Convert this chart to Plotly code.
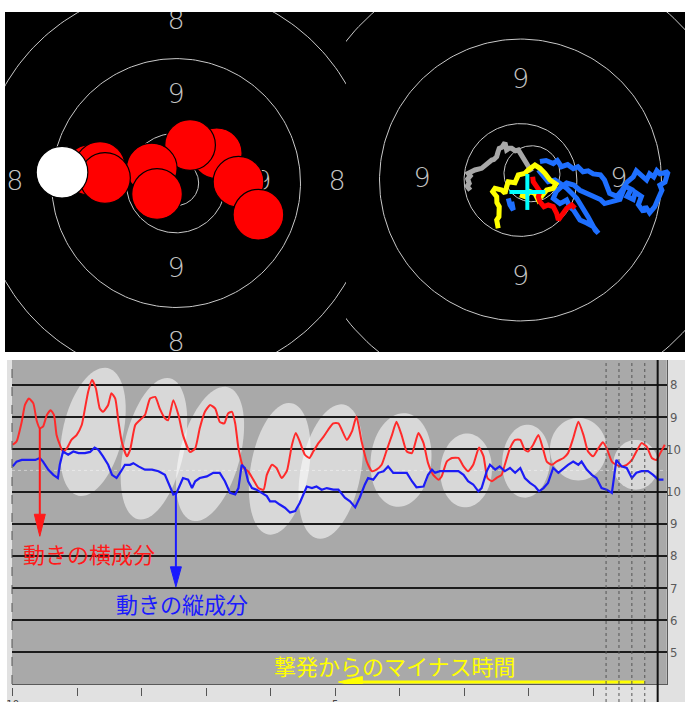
import numpy as np
import plotly.graph_objects as go

W, H = 685, 702

# ---------------- target rings (10 m air pistol), radii in mm ----------------
RING_RADII = [5.5, 13.75, 21.75]
INNER_TEN = 2.5
BAND_NAMES = ["9", "8"]
BAND_MID_RADII = [9.6, 17.8]

# ---------------- left target: shot group, mm from centre ----------------
SHOT_X = [4.5, 1.55, -2.68, -2.1, -9.5, -8.4, -7.85, 6.9, 9.1]
SHOT_Y = [3.28, 4.2, 1.6, -1.2, 1.44, 1.77, 0.55, 0.14, -3.5]
LAST_X = [-12.6]
LAST_Y = [1.2]
SHOT_DIAM = 5.6

# ---------------- right target: aiming trace, mm from centre ----------------
GREY_X = [-4.9, -5.2, -5.0, -5.15, -4.9, -5.1, -4.6, -4.44, -3.79, -3.5, -3.30, -2.81,
          -2.6, -2.32, -2.2, -2.07, -1.8, -1.51, -1.35, -1.1, -0.86, -0.5, -0.21, 0.21,
          0.60, 1.09]
GREY_Y = [-1.0, -0.6, -0.32, 0.1, 0.4, 0.65, 0.9, 0.98, 1.14, 1.4, 1.63, 1.95,
          2.0, 2.27, 2.7, 3.09, 3.2, 3.64, 2.93, 3.1, 3.09, 2.85, 2.93, 2.27,
          1.46, 0.81]
YELLOW_X = [-2.17, -2.32, -2.1, -2.07, -2.3, -2.32, -2.71, -2.49, -1.83, -1.51, -1.35,
            -1.19, -0.54, -0.21, 0.44, 0.76, 1.41, 1.90, 2.39, 2.88, 3.46, 3.20,
            2.56, 2.07, 1.74, 1.41, 0.93, 0.44, -0.05]
YELLOW_Y = [-4.71, -3.9, -3.58, -2.60, -2.2, -1.63, -1.14, -0.81, -0.98, -1.30, -0.65,
            -0.17, -0.26, 0.49, 0.65, 0.98, 1.46, 1.14, 0.65, 0.0, -0.39, -0.81,
            -0.98, -1.46, -1.95, -1.30, -1.14, -1.63, -1.46]
RED_X = [1.19, 1.25, 1.58, 1.90, 1.74, 1.90, 2.29, 2.71, 3.20, 3.53, 3.69, 4.02,
         4.51, 5.00, 5.32]
RED_Y = [0.32, -0.17, -0.65, -1.14, -1.63, -2.12, -2.60, -2.44, -2.60, -3.25,
         -3.90, -3.41, -2.76, -2.44, -2.76]
BLUE_X = [-1.19, -1.02, -0.70, -0.86, None,
          1.90, 2.5, 3.2, 3.6, 4.0, 4.6, 5.15, 5.6, 6.1, 6.6, 7.1, 7.8, 8.2, 8.4, 8.7,
          9.4, 9.9, 10.4, 11.0, 11.3, 11.7, 12.3, 12.6, 13.0, 13.3, 13.6, 14.4, 14.1,
          13.6, 13.8, 13.4, 13.1, 12.6, 12.2, 12.0, 11.5, 11.8, 11.2, 11.0, 10.4, 10.8,
          10.2, 9.7, 9.0, 8.2, 7.8, 7.1, 6.5, 5.8, 5.2, 4.5, 4.0, 3.5, 3.2, 3.85, 4.5,
          4.8, 5.15, 5.5, 5.8, 6.46, 7.1, 7.6, 7.3, 6.6, 6.0, 5.5, 5.0, 4.5, 3.85, 3.37,
          2.7, 2.07, 1.74]
BLUE_Y = [-1.79, -2.44, -2.93, -2.12, None,
          1.8, 1.9, 1.6, 1.9, 1.3, 1.5, 1.1, 1.3, 0.8, 0.9, 0.6, 0.5, 0.0, -0.6, -1.3,
          -1.6, -1.0, -0.2, 0.3, 0.9, 0.5, 0.0, 0.6, 0.3, 0.9, 0.6, 0.8, -0.2,
          -0.5, -1.0, -1.9, -2.6, -3.2, -2.6, -3.1, -2.4, -1.6, -1.2, -1.9, -1.6, -0.9,
          -0.6, -1.9, -2.1, -2.3, -1.9, -1.6, -1.3, -1.0, -0.5, -0.3, -0.65, -1.1, -1.8,
          -2.3, -1.95, -2.6, -2.9, -3.5, -3.9, -4.2, -4.55, -5.2, -4.9, -3.6, -2.6, -1.8,
          -1.3, -0.8, -0.33, 0.0, -0.17, 0.49, 0.98]
HOLD_CIRCLE = (1.12, 0.61, 2.73)        # centre x, centre y, radius (mm)
CROSS_X, CROSS_Y, CROSS_ARM = 0.67, -1.17, 1.75

# ---------------- time chart: seconds before the shot / offset in mm ----------------
T_HORIZ = [10.0, 9.94, 9.86, 9.81, 9.75, 9.68, 9.63, 9.58, 9.53, 9.47, 9.41, 9.36, 9.32,
           9.27, 9.22, 9.16, 9.09, 9.01, 8.93, 8.88, 8.83, 8.77, 8.71, 8.65, 8.60, 8.52,
           8.47, 8.41, 8.36, 8.31, 8.23, 8.18, 8.10, 8.03, 7.95, 7.87, 7.79, 7.72, 7.64,
           7.59, 7.51, 7.43, 7.36, 7.25, 7.17, 7.10, 7.02, 6.94, 6.86, 6.79, 6.72, 6.66,
           6.60, 6.55, 6.50, 6.42, 6.35, 6.27, 6.19, 6.11, 6.06, 5.98, 5.91, 5.83, 5.75,
           5.67, 5.61, 5.55, 5.47, 5.40, 5.34, 5.26, 5.18, 5.11, 5.03, 4.95, 4.82, 4.74,
           4.67, 4.59, 4.51, 4.43, 4.36, 4.28, 4.20, 4.12, 4.05, 3.97, 3.89, 3.81, 3.71,
           3.63, 3.56, 3.48, 3.40, 3.35, 3.27, 3.19, 3.09, 3.01, 2.94, 2.86, 2.77, 2.70,
           2.64, 2.57, 2.50, 2.42, 2.37, 2.29, 2.21, 2.13, 2.06, 2.01, 1.93, 1.85, 1.78,
           1.72, 1.64, 1.57, 1.46, 1.39, 1.31, 1.23, 1.15, 1.08, 1.00, 0.92, 0.85, 0.79,
           0.71, 0.64, 0.56, 0.48, 0.40, 0.33, 0.25, 0.17, 0.09, 0.02, -0.04, -0.11]
V_HORIZ = [6.4, 7.2, 12.1, 16.3, 17.9, 16.7, 12.5, 10.5, 10.9, 13.8, 15.0, 13.8, 8.8,
           6.4, 4.7, 5.5, 7.6, 8.8, 11.3, 15.4, 19.6, 22.5, 20.4, 15.4, 14.6, 16.3,
           19.2, 17.9, 12.1, 7.2, 3.5, 5.1, 11.3, 12.5, 13.8, 17.9, 18.3, 15.4, 13.0,
           12.5, 17.5, 13.8, 8.8, 4.6, 5.5, 10.5, 14.6, 16.3, 15.4, 12.1, 11.7, 14.2,
           14.6, 11.7, 5.5, 0.6, -0.2, -2.3, -4.4, -4.8, -1.1, 1.4, 0.6, -1.9, -0.2,
           6.4, 9.3, 7.2, 3.9, 3.1, 4.7, 6.8, 8.4, 10.1, 11.7, 11.7, 7.6, 9.7,
           13.4, 7.2, 2.2, -0.2, 0.2, 1.4, 5.1, 8.8, 12.1, 8.8, 4.7, 4.3, 9.3,
           6.8, 1.8, -1.1, -2.3, -1.5, 2.2, 3.1, 3.1, 1.0, -0.2, 1.4, 5.7, 3.5,
           -1.9, -2.7, -1.9, -1.1, 1.4, 5.5, 7.6, 7.6, 5.1, 4.7, 6.4, 8.8, 5.5,
           2.2, 1.4, 2.2, 3.1, 4.3, 8.0, 12.1, 8.8, 4.7, 3.5, 5.5, 7.0, 5.5,
           2.2, 1.4, 1.0, 1.4, 2.6, 4.7, 6.8, 5.9, 3.1, 2.6, 4.3, 6.4]
T_VERT = [10.0, 9.94, 9.86, 9.76, 9.65, 9.58, 9.53, 9.45, 9.37, 9.30, 9.27, 9.22, 9.14,
          9.06, 8.98, 8.88, 8.80, 8.73, 8.67, 8.60, 8.52, 8.46, 8.39, 8.32, 8.26, 8.18,
          8.13, 8.05, 7.95, 7.84, 7.74, 7.64, 7.56, 7.51, 7.46, 7.41, 7.36, 7.28, 7.22,
          7.17, 7.10, 6.99, 6.89, 6.79, 6.71, 6.63, 6.55, 6.50, 6.45, 6.40, 6.35, 6.29,
          6.22, 6.14, 6.06, 6.01, 5.93, 5.86, 5.78, 5.70, 5.62, 5.55, 5.49, 5.44, 5.36,
          5.29, 5.21, 5.13, 5.03, 4.95, 4.85, 4.77, 4.69, 4.62, 4.54, 4.49, 4.41, 4.33,
          4.25, 4.18, 4.10, 4.00, 3.89, 3.81, 3.74, 3.63, 3.56, 3.50, 3.45, 3.38, 3.30,
          3.19, 3.09, 3.01, 2.94, 2.86, 2.78, 2.73, 2.65, 2.60, 2.52, 2.45, 2.37, 2.29,
          2.21, 2.13, 2.06, 1.98, 1.90, 1.84, 1.77, 1.70, 1.62, 1.54, 1.46, 1.39, 1.31,
          1.23, 1.18, 1.10, 1.02, 0.95, 0.87, 0.79, 0.71, 0.66, 0.64, 0.56, 0.48, 0.40,
          0.33, 0.25, 0.15, 0.07, -0.01, -0.09]
V_VERT = [1.0, 2.2, 2.6, 2.6, 2.6, 3.1, 2.2, 0.2, -1.1, -1.9, 1.4, 4.7, 3.9,
          4.7, 4.3, 4.3, 4.6, 5.7, 5.1, 3.5, 1.4, -1.1, -1.9, -0.2, 1.4, 1.4,
          1.8, 1.0, 0.2, 0.2, -0.2, -1.1, -4.4, -6.0, -5.6, -3.5, -1.9, -2.3, -4.4,
          -2.7, -1.9, -1.5, -0.6, -0.6, -2.7, -5.6, -6.0, -4.4, 1.4, 0.6, -2.7, -4.4,
          -4.8, -5.6, -6.4, -7.7, -7.7, -8.5, -9.3, -10.5, -10.1, -8.1, -5.6, -4.0, -4.4,
          -4.0, -4.8, -4.4, -4.8, -4.8, -6.8, -7.7, -9.2, -6.8, -3.5, -1.9, -2.3, -0.6,
          -0.2, 1.0, -0.6, -0.6, -0.6, -2.7, -4.2, -4.0, -1.1, 0.2, -0.6, -0.2, -0.2,
          -0.2, -0.2, -1.1, -2.7, -3.5, -5.2, -4.4, -0.2, 1.4, 0.2, 1.0, -0.2, 0.6,
          -0.6, 0.6, -1.9, -3.1, -4.0, -5.2, -4.4, -3.1, 0.6, -0.6, 0.6, 1.4, 2.2,
          1.4, 2.2, 0.2, -1.1, -1.9, -4.4, -4.8, -5.6, 1.4, 2.6, 1.0, 0.6, -1.9,
          -0.6, -0.2, -0.2, -1.1, -2.3, -2.3]

# ring boundaries on the offset scale (mm) and their ring values
CHART_EDGES = [21.3, 13.3, 5.3, -5.3, -13.3, -21.3, -29.3, -37.3, -45.3]
CHART_EDGE_NAMES = ["8", "9", "10", "10", "9", "8", "7", "6", "5"]
TIME_TICKS = [10, 9, 8, 7, 6, 5, 4, 3, 2, 1]
TIME_TICK_TEXT = ["10", "", "", "", "", "5", "", "", "", ""]
MARK_TIMES = [0.8, 0.6, 0.4, 0.2]
SHOT_TIME = 0.0

# oscillation highlights: centre t, centre mm, half height (mm), half width (s), lean (deg)
SWINGS = [
    (8.755, 9.6, 16.3, 0.465, 13),
    (7.81, 5.4, 18.0, 0.465, 12.7),
    (6.94, 4.1, 17.2, 0.465, 15),
    (5.86, 0.4, 16.6, 0.45, 10),
    (5.07, -0.3, 17.0, 0.465, 11),
    (3.98, 2.6, 11.7, 0.47, 6),
    (2.97, 0.0, 9.2, 0.40, 3),
    (2.04, 2.3, 9.1, 0.37, 4),
    (1.23, 5.3, 7.8, 0.44, 0),
    (0.34, 1.4, 6.2, 0.35, 0),
]

# annotated arrows: (from t, from mm) -> (tip t, tip mm)
ARROW_H = ((9.58, 10.5), (9.58, -16.4))
ARROW_V = ((7.47, -5.8), (7.47, -29.0))
ARROW_T = ((0.2, -52.7), (4.95, -52.7))
LABEL_H = ("動きの横成分", 8.81, -20.5)
LABEL_V = ("動きの縦成分", 7.37, -33.0)
LABEL_T = ("撃発からのマイナス時間", 4.065, -48.4)

# ---------------- layout geometry ----------------
def dom_x(a, b):
    return [a / W, b / W]


def dom_y(top, bottom):
    return [1 - bottom / H, 1 - top / H]


L_RX, L_RY = [-18.9, 18.78], [-18.67, 18.9]
R_RX, R_RY = [-17.02, 16.05], [-16.78, 16.39]
C_RX, C_RY = [10.011, -0.14], [-53.2, 27.5]
C_LEFT, C_RIGHT, C_TOP, C_BOTTOM = 12, 666.7, 360, 684
PX_PER_S = (C_RIGHT - C_LEFT) / (C_RX[0] - C_RX[1])
PX_PER_MM = (C_BOTTOM - C_TOP) / (C_RY[1] - C_RY[0])
L_SCALE = (346 - 5) / (L_RX[1] - L_RX[0])

RING_COLOR = "#c9c9c9"
fig = go.Figure(layout=dict(template="none"))


def circle_xy(cx, cy, r, n=241):
    a = np.linspace(0, 2 * np.pi, n)
    return cx + r * np.cos(a), cy + r * np.sin(a)


def add_target(xa, ya, radii, bands):
    for r in radii:
        x, y = circle_xy(0, 0, r)
        fig.add_trace(go.Scatter(x=x, y=y, mode="lines", xaxis=xa, yaxis=ya,
                                 line=dict(color=RING_COLOR, width=1),
                                 hoverinfo="skip", showlegend=False))
    lx, ly, lt = [], [], []
    for name, r in zip(BAND_NAMES[:bands], BAND_MID_RADII[:bands]):
        for dx, dy in [(0, 1), (0, -1), (-1, 0), (1, 0)]:
            lx.append(dx * r)
            ly.append(dy * r)
            lt.append(name)
    fig.add_trace(go.Scatter(x=lx, y=ly, text=lt, mode="text", xaxis=xa, yaxis=ya,
                             textfont=dict(family="DejaVu Sans", size=27, color="#c4c4c4",
                                           weight=200),
                             cliponaxis=True, hoverinfo="skip", showlegend=False))


# left target
add_target("x", "y", RING_RADII + [INNER_TEN], 2)
fig.add_trace(go.Scatter(x=SHOT_X, y=SHOT_Y, mode="markers", xaxis="x", yaxis="y",
                         marker=dict(size=SHOT_DIAM * L_SCALE, color="#ff0000",
                                     line=dict(color="#000000", width=1.2)),
                         hoverinfo="skip", showlegend=False))
fig.add_trace(go.Scatter(x=LAST_X, y=LAST_Y, mode="markers", xaxis="x", yaxis="y",
                         marker=dict(size=SHOT_DIAM * L_SCALE + 1, color="#ffffff",
                                     line=dict(color="#000000", width=1.2)),
                         hoverinfo="skip", showlegend=False))

# right target (zoomed in: only the 9 band is labelled inside the frame)
add_target("x2", "y2", RING_RADII, 1)
hx, hy = circle_xy(*HOLD_CIRCLE)
fig.add_trace(go.Scatter(x=hx, y=hy, mode="lines", xaxis="x2", yaxis="y2",
                         line=dict(color=RING_COLOR, width=1),
                         hoverinfo="skip", showlegend=False))
for xs, ys, col in [(BLUE_X, BLUE_Y, "#1e6fff"), (GREY_X, GREY_Y, "#a8a8a8"),
                    (YELLOW_X, YELLOW_Y, "#ffff00"), (RED_X, RED_Y, "#ff0000")]:
    fig.add_trace(go.Scatter(x=xs, y=ys, mode="lines", xaxis="x2", yaxis="y2",
                             line=dict(color=col, width=5), connectgaps=False,
                             hoverinfo="skip", showlegend=False))
fig.add_trace(go.Scatter(
    x=[CROSS_X - CROSS_ARM, CROSS_X + CROSS_ARM, None, CROSS_X, CROSS_X],
    y=[CROSS_Y, CROSS_Y, None, CROSS_Y - CROSS_ARM, CROSS_Y + CROSS_ARM],
    mode="lines", xaxis="x2", yaxis="y2", line=dict(color="#00ffff", width=4),
    hoverinfo="skip", showlegend=False))

# time chart: horizontal and vertical components of the hold
fig.add_trace(go.Scatter(x=T_HORIZ, y=V_HORIZ, mode="lines", xaxis="x3", yaxis="y3",
                         line=dict(color="#ff2a2a", width=2, shape="spline", smoothing=0.5),
                         hoverinfo="skip", showlegend=False))
fig.add_trace(go.Scatter(x=T_VERT, y=V_VERT, mode="lines", xaxis="x3", yaxis="y3",
                         line=dict(color="#1c1cf5", width=2.2),
                         hoverinfo="skip", showlegend=False))


def arrow(start, tip, color, width, head_len, head_w):
    (t0, v0), (t1, v1) = start, tip
    dx = -(t1 - t0) * PX_PER_S
    dy = (v1 - v0) * PX_PER_MM
    n = np.hypot(dx, dy)
    ux, uy = dx / n, dy / n
    bx, by = -ux * head_len, -uy * head_len
    hx_ = [0, bx - uy * head_w / 2, bx + uy * head_w / 2, 0]
    hy_ = [0, by + ux * head_w / 2, by - ux * head_w / 2, 0]
    ht = [t1 - p / PX_PER_S for p in hx_]
    hv = [v1 + q / PX_PER_MM for q in hy_]
    fig.add_trace(go.Scatter(x=[t0, t1 - bx / PX_PER_S], y=[v0, v1 + by / PX_PER_MM],
                             mode="lines", xaxis="x3", yaxis="y3",
                             line=dict(color=color, width=width),
                             hoverinfo="skip", showlegend=False))
    fig.add_trace(go.Scatter(x=ht, y=hv, mode="lines", fill="toself", fillcolor=color,
                             xaxis="x3", yaxis="y3", line=dict(color=color, width=1),
                             hoverinfo="skip", showlegend=False))


arrow(*ARROW_H, "#ff1a1a", 2, 22, 11)
arrow(*ARROW_V, "#1a1aff", 2, 20, 11)
arrow(*ARROW_T, "#ffff00", 3, 24, 11)

# invisible anchor for the detached time-tick axis
fig.add_trace(go.Scatter(x=[TIME_TICKS[0]], y=[0], mode="markers", xaxis="x4", yaxis="y3",
                         marker=dict(opacity=0), hoverinfo="skip", showlegend=False))

shapes = [
    dict(type="rect", xref="paper", yref="paper", x0=7 / W, x1=1, y0=0, y1=1 - C_TOP / H,
         fillcolor="#e1e1e1", line=dict(width=0), layer="below"),
    dict(type="rect", xref="paper", yref="paper", x0=C_LEFT / W, x1=C_RIGHT / W,
         y0=1 - C_BOTTOM / H, y1=1 - C_TOP / H, fillcolor="#a9a9a9",
         line=dict(width=0), layer="below"),
    dict(type="line", xref="paper", yref="paper", x0=C_LEFT / W, x1=C_LEFT / W,
         y0=1 - C_BOTTOM / H, y1=1 - C_TOP / H, line=dict(color="#555555", width=1, dash="dash")),
    dict(type="line", xref="x3", yref="y3", x0=C_RX[0], x1=C_RX[1], y0=0, y1=0,
         line=dict(color="#cfcfcf", width=1, dash="dot"), layer="below"),
]
for tc, vc, a_mm, b_s, lean in SWINGS:
    a, b, th = a_mm * PX_PER_MM, b_s * PX_PER_S, np.radians(lean)
    ang = np.linspace(0, 2 * np.pi, 73)
    u, w = b * np.cos(ang), a * np.sin(ang)
    dx = u * np.cos(th) + w * np.sin(th)
    dy = -u * np.sin(th) + w * np.cos(th)
    ts, vs = tc - dx / PX_PER_S, vc + dy / PX_PER_MM
    path = "M " + " L ".join(f"{t:.4f},{v:.3f}" for t, v in zip(ts, vs)) + " Z"
    shapes.append(dict(type="path", xref="x3", yref="y3", path=path,
                       fillcolor="rgba(255,255,255,0.55)", line=dict(width=0),
                       layer="below"))
for t in MARK_TIMES:
    shapes.append(dict(type="line", xref="x3", yref="paper", x0=t, x1=t, y0=0,
                       y1=1 - C_TOP / H, line=dict(color="#555555", width=1, dash="dot")))
shapes.append(dict(type="line", xref="x3", yref="paper", x0=SHOT_TIME, x1=SHOT_TIME, y0=0,
                   y1=1 - C_TOP / H, line=dict(color="#111111", width=2)))

annotations = []
for v, name in zip(CHART_EDGES, CHART_EDGE_NAMES):
    annotations.append(dict(x=673 / W, xref="paper", y=v, yref="y3", text=name,
                            showarrow=False, xanchor="center", yanchor="middle",
                            font=dict(family="Liberation Sans Narrow, DejaVu Sans Condensed, sans-serif",
                                      size=13, color="#5a5a5a")))
for (txt, t, v), col in [(LABEL_H, "#ff1a1a"), (LABEL_V, "#1a1aff"), (LABEL_T, "#ffff00")]:
    annotations.append(dict(x=t, y=v, xref="x3", yref="y3", text=txt, showarrow=False,
                            xanchor="center", yanchor="middle",
                            font=dict(family="Noto Sans CJK JP", size=22, color=col)))

hidden = dict(showgrid=False, zeroline=False, showticklabels=False, ticks="",
              showline=False, fixedrange=True, automargin=False)
fig.update_layout(
    width=W, height=H, margin=dict(l=0, r=0, t=0, b=0, pad=0, autoexpand=False),
    paper_bgcolor="#ffffff", plot_bgcolor="#000000", showlegend=False,
    hovermode=False,
    xaxis=dict(domain=dom_x(5, 346), range=L_RX, anchor="y", **hidden),
    yaxis=dict(domain=dom_y(12, 352), range=L_RY, anchor="x", **hidden),
    xaxis2=dict(domain=dom_x(346, 685), range=R_RX, anchor="y2", **hidden),
    yaxis2=dict(domain=dom_y(12, 352), range=R_RY, anchor="x2", **hidden),
    xaxis3=dict(domain=dom_x(C_LEFT, C_RIGHT), range=C_RX, anchor="y3",
                showgrid=False, zeroline=False, showticklabels=False, ticks="",
                showline=True, linecolor="#5a5a5a", linewidth=1, automargin=False),
    yaxis3=dict(domain=dom_y(C_TOP, C_BOTTOM), range=C_RY, anchor="x3", side="right",
                tickvals=CHART_EDGES, showgrid=True, gridcolor="#1c1c1c", gridwidth=1.7,
                zeroline=False, showticklabels=False, ticks="", automargin=False,
                showline=True, linecolor="#5a5a5a", linewidth=1),
    xaxis4=dict(overlaying="x3", anchor="free", position=1 - 687 / H, range=C_RX,
                tickvals=TIME_TICKS, ticktext=TIME_TICK_TEXT, ticks="outside",
                ticklen=8, tickwidth=1, tickcolor="#555555", showgrid=False,
                zeroline=False, showline=False, automargin=False,
                tickfont=dict(family="DejaVu Sans", size=10, color="#444444")),
    shapes=shapes, annotations=annotations,
)

fig.write_html("out.html")
